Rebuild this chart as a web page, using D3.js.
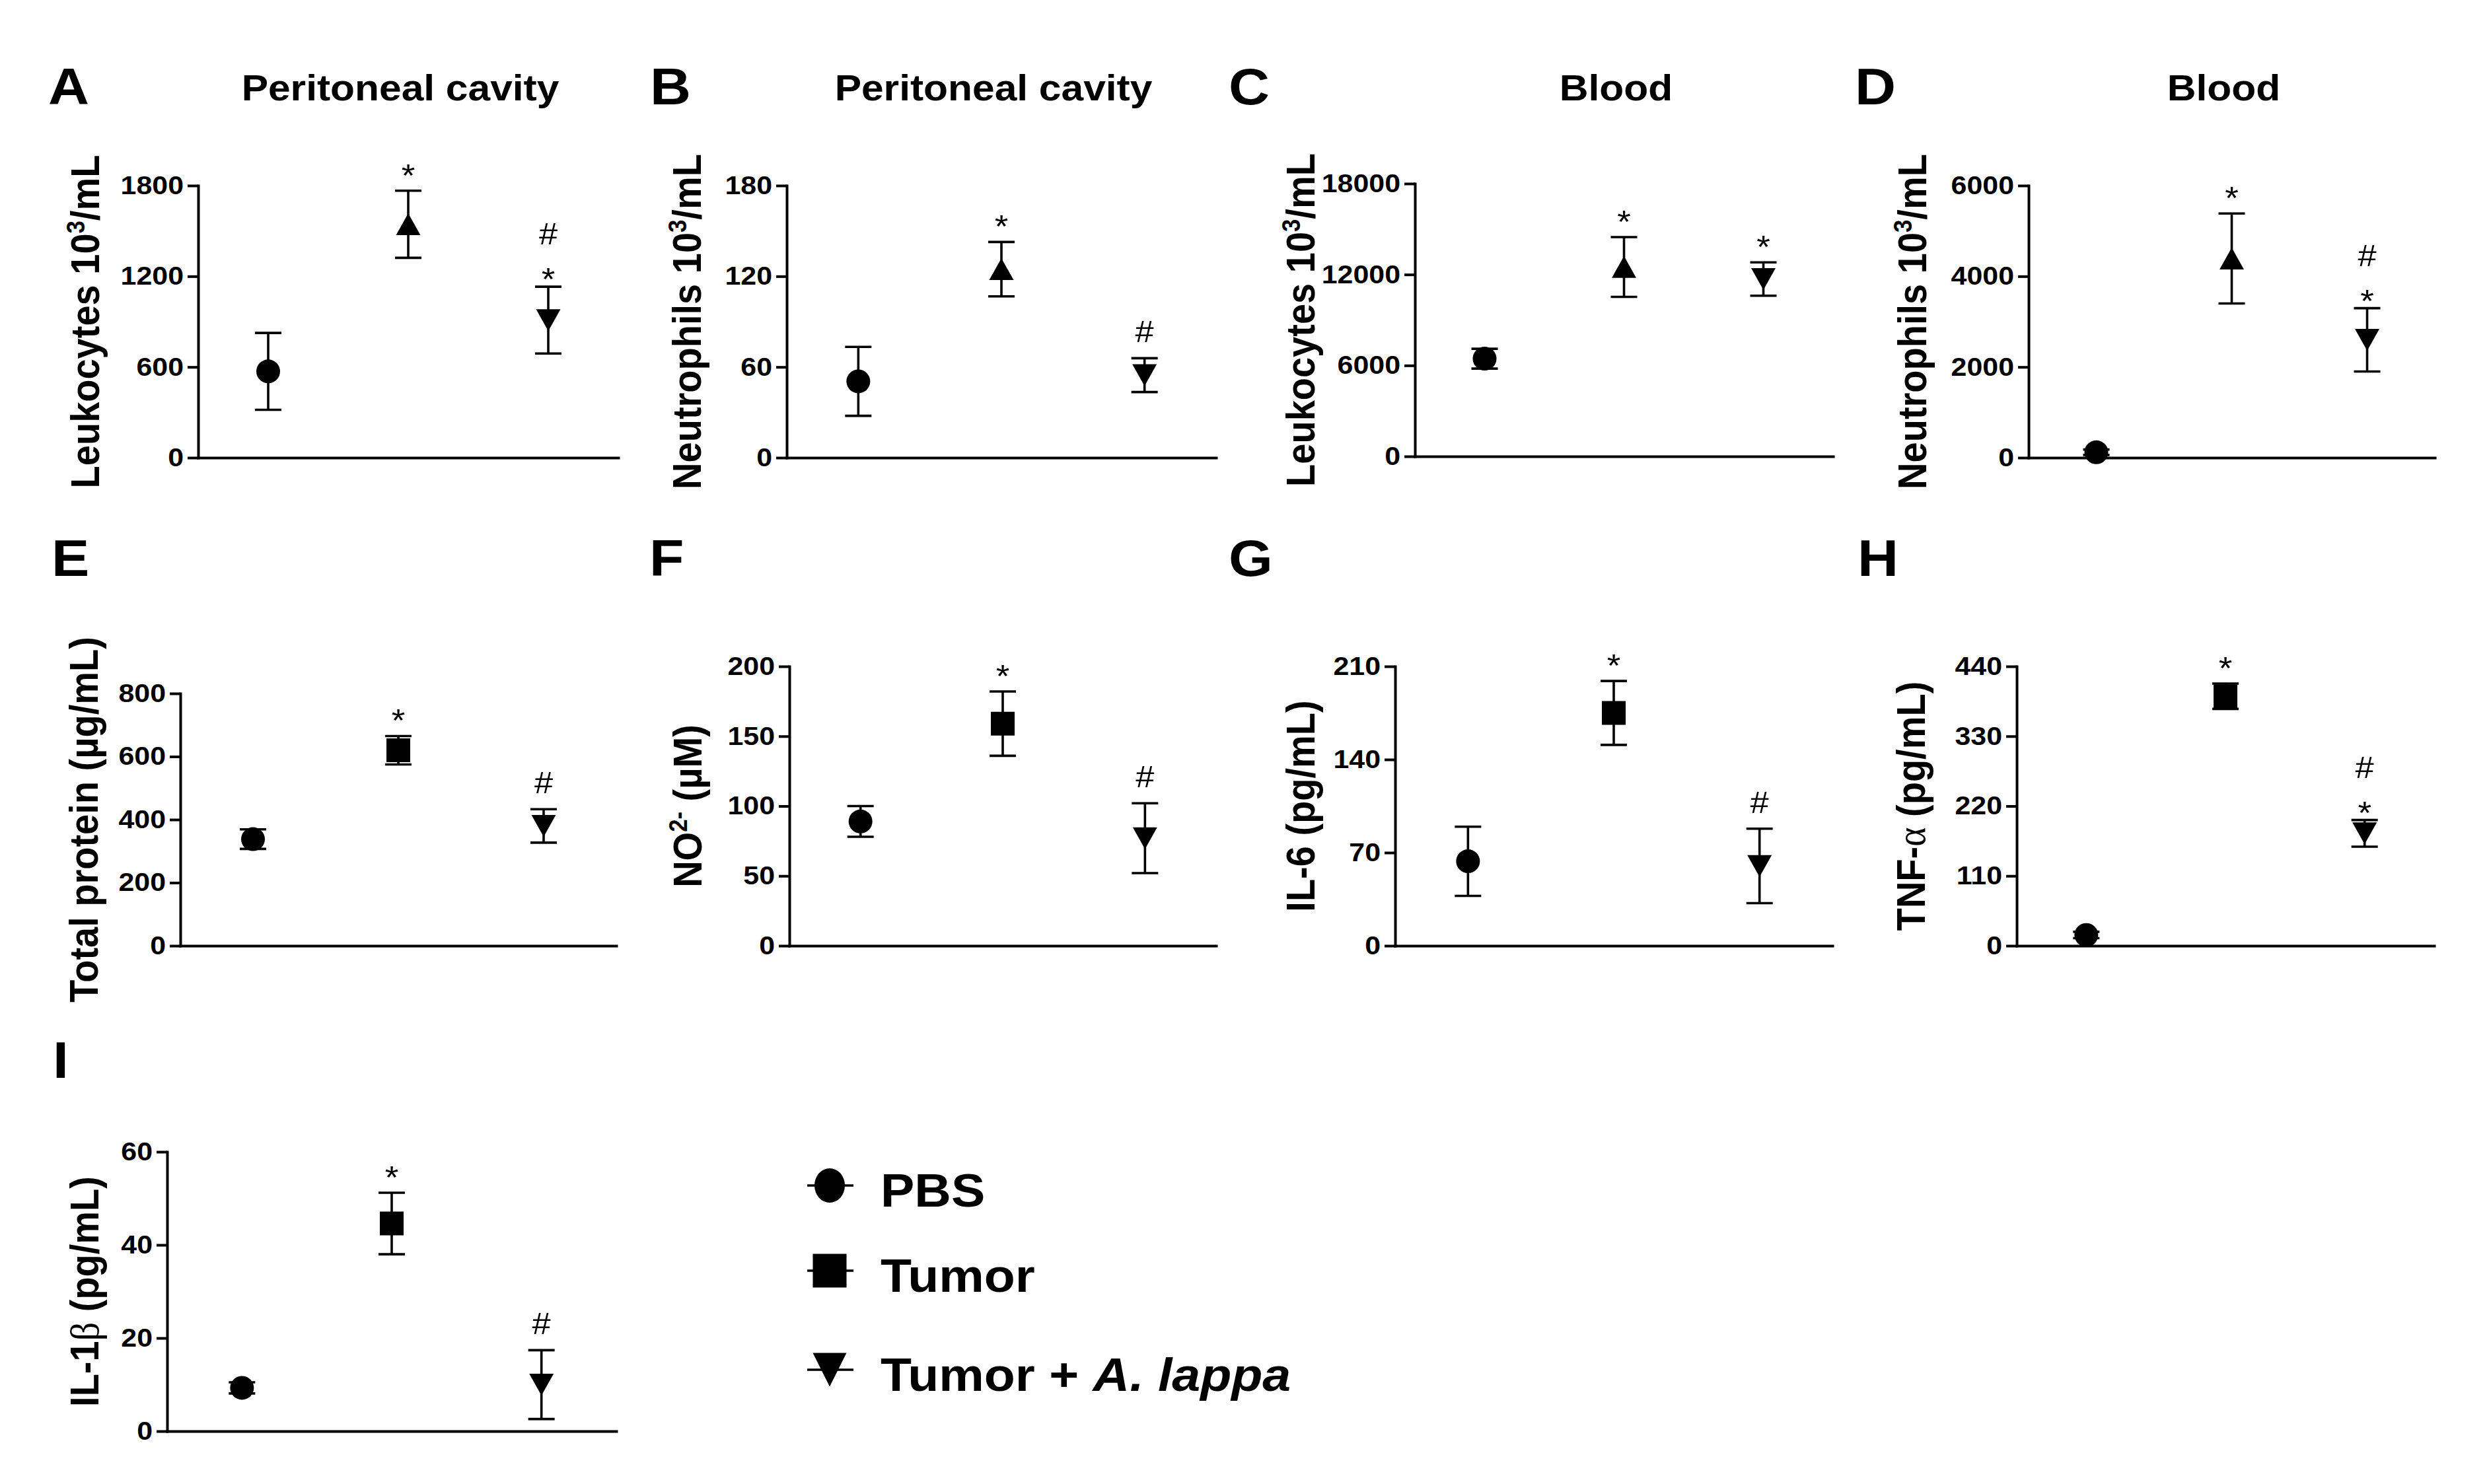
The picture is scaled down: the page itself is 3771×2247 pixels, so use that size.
<!DOCTYPE html>
<html>
<head>
<meta charset="utf-8">
<script src="https://cdn.jsdelivr.net/npm/d3@7"></script>
<style>
  body { margin: 0; background: #fff; }
  svg { display: block; }
</style>
</head>
<body>
<script>
// ---------------- DATA ----------------
const groups = ["PBS", "Tumor", "Tumor + A. lappa"];
const panelLetters = ["A", "B", "C", "D", "E", "F", "G", "H", "I"];
const panelTitles = ["Peritoneal cavity", "Peritoneal cavity", "Blood", "Blood", "", "", "", "", ""];
const yLabels = [
  [["Leukocytes 10"], ["3", "sup"], ["/mL"]],
  [["Neutrophils 10"], ["3", "sup"], ["/mL"]],
  [["Leukocytes 10"], ["3", "sup"], ["/mL"]],
  [["Neutrophils 10"], ["3", "sup"], ["/mL"]],
  [["Total protein (µg/mL)"]],
  [["NO"], ["2-", "sup"], [" (µM)"]],
  [["IL-6 (pg/mL)"]],
  [["TNF-"], ["α", "greek"], [" (pg/mL)"]],
  [["IL-1"], ["β", "greek"], [" (pg/mL)"]]
];
const yTicks = [
  [0, 600, 1200, 1800],
  [0, 60, 120, 180],
  [0, 6000, 12000, 18000],
  [0, 2000, 4000, 6000],
  [0, 200, 400, 600, 800],
  [0, 50, 100, 150, 200],
  [0, 70, 140, 210],
  [0, 110, 220, 330, 440],
  [0, 20, 40, 60]
];
// mean values per panel: PBS, Tumor, Tumor + A. lappa
const means = [
  [571, 1544, 910],
  [50.5, 124.7, 54.6],
  [6446, 12497, 11700],
  [120, 4392, 2598],
  [338, 620, 380],
  [89, 159, 77],
  [63.5, 175, 60],
  [17, 393, 177],
  [9.3, 44.6, 10]
];
// error (SEM) per panel
const errors = [
  [254, 222, 221],
  [22.8, 18, 11.2],
  [654, 1972, 1100],
  [60, 992, 698],
  [31, 45, 53],
  [11, 23, 25],
  [26, 24, 28],
  [5, 20, 21],
  [1.2, 6.6, 7.4]
];
// significance marks per panel / group (lowest first)
const marks = [
  [[], ["*"], ["*", "#"]],
  [[], ["*"], ["#"]],
  [[], ["*"], ["*"]],
  [[], ["*"], ["*", "#"]],
  [[], ["*"], ["#"]],
  [[], ["*"], ["#"]],
  [[], ["*"], ["#"]],
  [[], ["*"], ["*", "#"]],
  [[], ["*"], ["#"]]
];

// ---------------- LAYOUT ----------------
const W = 3771, H = 2247;
const layout = [
  { x0: 300,  x1: 936,  top: 281,  bottom: 693,  lx: 128,  letterX: 73,   row: 0 },
  { x0: 1191, x1: 1841, top: 281,  bottom: 693,  lx: 1039, letterX: 984,  row: 0 },
  { x0: 2142, x1: 2775, top: 278,  bottom: 691,  lx: 1968, letterX: 1860, row: 0 },
  { x0: 3071, x1: 3686, top: 281,  bottom: 693,  lx: 2894, letterX: 2808, row: 0 },
  { x0: 273,  x1: 933,  top: 1050, bottom: 1432, lx: 126,  letterX: 78,   row: 1 },
  { x0: 1195, x1: 1841, top: 1009, bottom: 1432, lx: 1040, letterX: 983,  row: 1 },
  { x0: 2112, x1: 2774, top: 1009, bottom: 1432, lx: 1968, letterX: 1860, row: 1 },
  { x0: 3053, x1: 3685, top: 1009, bottom: 1432, lx: 2892, letterX: 2812, row: 1 },
  { x0: 253,  x1: 933,  top: 1744, bottom: 2167, lx: 127,  letterX: 80,   row: 2 }
];
const letterBaseline = [158, 872, 1632];
const FONT = "'Liberation Sans', Arial, Helvetica, sans-serif";
const SX = 1.1; // horizontal stretch of the original figure

const svg = d3.select("body").append("svg")
  .attr("width", W).attr("height", H)
  .attr("viewBox", `0 0 ${W} ${H}`);
svg.append("rect").attr("width", W).attr("height", H).attr("fill", "#fff");

function shapePath(type, w, h) {
  if (type === "triUp") return `M0,${-h/2}L${w/2},${h/2}L${-w/2},${h/2}Z`;
  if (type === "triDown") return `M${-w/2},${-h/2}L${w/2},${-h/2}L0,${h/2}Z`;
  if (type === "square") return `M${-w/2},${-h/2}H${w/2}V${h/2}H${-w/2}Z`;
  return null;
}
function drawMarker(g, type, cx, cy, size) {
  if (type === "circle") {
    g.append("ellipse").attr("cx", cx).attr("cy", cy)
      .attr("rx", size.rx).attr("ry", size.ry).attr("fill", "#000");
  } else {
    g.append("path").attr("transform", `translate(${cx},${cy})`)
      .attr("d", shapePath(type, size.w, size.h)).attr("fill", "#000");
  }
}
function addSegments(text, segs, fs) {
  segs.forEach((s, k) => {
    const t = text.append("tspan").text(s[0]);
    if (s[1] === "sup") {
      t.attr("font-size", fs * 0.62).attr("dy", -fs * 0.36);
    } else if (s[1] === "greek") {
      t.attr("font-family", "'Liberation Serif', 'DejaVu Serif', serif").attr("font-weight", "normal");
    }
    if (k > 0 && segs[k - 1][1] === "sup") t.attr("dy", fs * 0.36);
  });
}

layout.forEach((L, i) => {
  const g = svg.append("g");
  const y = d3.scaleLinear().domain([0, d3.max(yTicks[i])]).range([L.bottom, L.top]);
  const x = d3.scalePoint().domain(groups).range([L.x0, L.x1]).padding(0.5);

  // y axis
  const ya = g.append("g").attr("transform", `translate(${L.x0},0)`)
    .call(d3.axisLeft(y).tickValues(yTicks[i]).tickSize(16).tickSizeOuter(0).tickFormat(d3.format("d")));
  ya.select(".domain").attr("stroke", "#000").attr("stroke-width", 4).attr("stroke-linecap", "square");
  ya.selectAll(".tick line").attr("stroke", "#000").attr("stroke-width", 4);
  ya.selectAll(".tick text")
    .attr("x", 0)
    .attr("transform", `translate(-22,0) scale(${SX},1)`)
    .attr("fill", "#000")
    .attr("font-family", FONT).attr("font-weight", "bold").attr("font-size", 39);

  // x axis (line only)
  const xa = g.append("g").attr("transform", `translate(0,${L.bottom})`)
    .call(d3.axisBottom(x).tickValues([]).tickSizeOuter(0));
  xa.select(".domain").attr("stroke", "#000").attr("stroke-width", 4).attr("stroke-linecap", "square");

  // error bars + markers
  groups.forEach((grp, j) => {
    const cx = x(grp);
    const m = means[i][j], e = errors[i][j];
    const yHi = y(m + e), yLo = y(Math.max(0, m - e));
    const eb = g.append("g").attr("stroke", "#000").attr("stroke-width", 3.6);
    eb.append("line").attr("x1", cx).attr("x2", cx).attr("y1", yHi).attr("y2", yLo);
    eb.append("line").attr("x1", cx - 20).attr("x2", cx + 20).attr("y1", yHi).attr("y2", yHi);
    eb.append("line").attr("x1", cx - 20).attr("x2", cx + 20).attr("y1", yLo).attr("y2", yLo);

    let type = j === 0 ? "circle" : (j === 1 ? (L.row === 0 ? "triUp" : "square") : "triDown");
    const size = type === "circle" ? { rx: 18, ry: 18 }
      : type === "square" ? { w: 36, h: 36 } : { w: 37, h: 33 };
    const cy = y(m);
    drawMarker(g, type, cx, cy, size);

    // significance marks
    const mTop = type === "circle" ? cy - 18 : cy - (type === "square" ? 18 : 16.5);
    const base = Math.min(yHi, mTop);
    const list = marks[i][j];
    list.forEach((s, k) => {
      let center;
      if (list.length > 1) center = k === 0 ? base - 22 : base - 80;
      else center = s === "*" ? base - 34 : base - 40;
      const fs = s === "*" ? 48 : 46;
      const off = s === "*" ? 0.56 * fs : 0.35 * fs;
      g.append("text").text(s)
        .attr("transform", `translate(${cx},${center + off}) scale(${SX},1)`)
        .attr("text-anchor", "middle")
        .attr("font-family", FONT).attr("font-size", fs).attr("fill", "#000");
    });
  });

  // y label
  const lfs = 56;
  const cyLab = (L.top + L.bottom) / 2;
  const lt = g.append("text")
    .attr("transform", `translate(${L.lx + 22},${cyLab}) scale(${SX},1) rotate(-90)`)
    .attr("text-anchor", "middle")
    .attr("font-family", FONT).attr("font-weight", "bold").attr("font-size", lfs).attr("fill", "#000");
  addSegments(lt, yLabels[i], lfs);

  // title
  if (panelTitles[i]) {
    g.append("text").text(panelTitles[i])
      .attr("transform", `translate(${(L.x0 + L.x1) / 2 - 12},152) scale(${SX},1)`)
      .attr("text-anchor", "middle")
      .attr("font-family", FONT).attr("font-weight", "bold").attr("font-size", 55).attr("fill", "#000");
  }
  // panel letter
  g.append("text").text(panelLetters[i])
    .attr("transform", `translate(${L.letterX},${letterBaseline[L.row]}) scale(${SX},1)`)
    .attr("font-family", FONT).attr("font-weight", "bold").attr("font-size", 78).attr("fill", "#000");
});

// ---------------- LEGEND ----------------
const legendTypes = ["circle", "square", "triDown"];
const legendRowY = [1795, 1924, 2074];
const lg = svg.append("g");
groups.forEach((grp, j) => {
  const cy = legendRowY[j];
  lg.append("line").attr("x1", 1222).attr("x2", 1292).attr("y1", cy).attr("y2", cy)
    .attr("stroke", "#000").attr("stroke-width", 3.6);
  const t = legendTypes[j];
  const size = t === "circle" ? { rx: 23, ry: 26 } : { w: 51, h: 51 };
  drawMarker(lg, t, 1256, cy, size);
  const txt = lg.append("text")
    .attr("transform", `translate(1333,${cy + 32}) scale(${SX},1)`)
    .attr("font-family", FONT).attr("font-weight", "bold").attr("font-size", 70).attr("fill", "#000");
  if (grp.indexOf("A. lappa") >= 0) {
    txt.append("tspan").text("Tumor + ");
    txt.append("tspan").text("A. lappa").attr("font-style", "italic");
  } else {
    txt.text(grp);
  }
});
</script>
</body>
</html>
